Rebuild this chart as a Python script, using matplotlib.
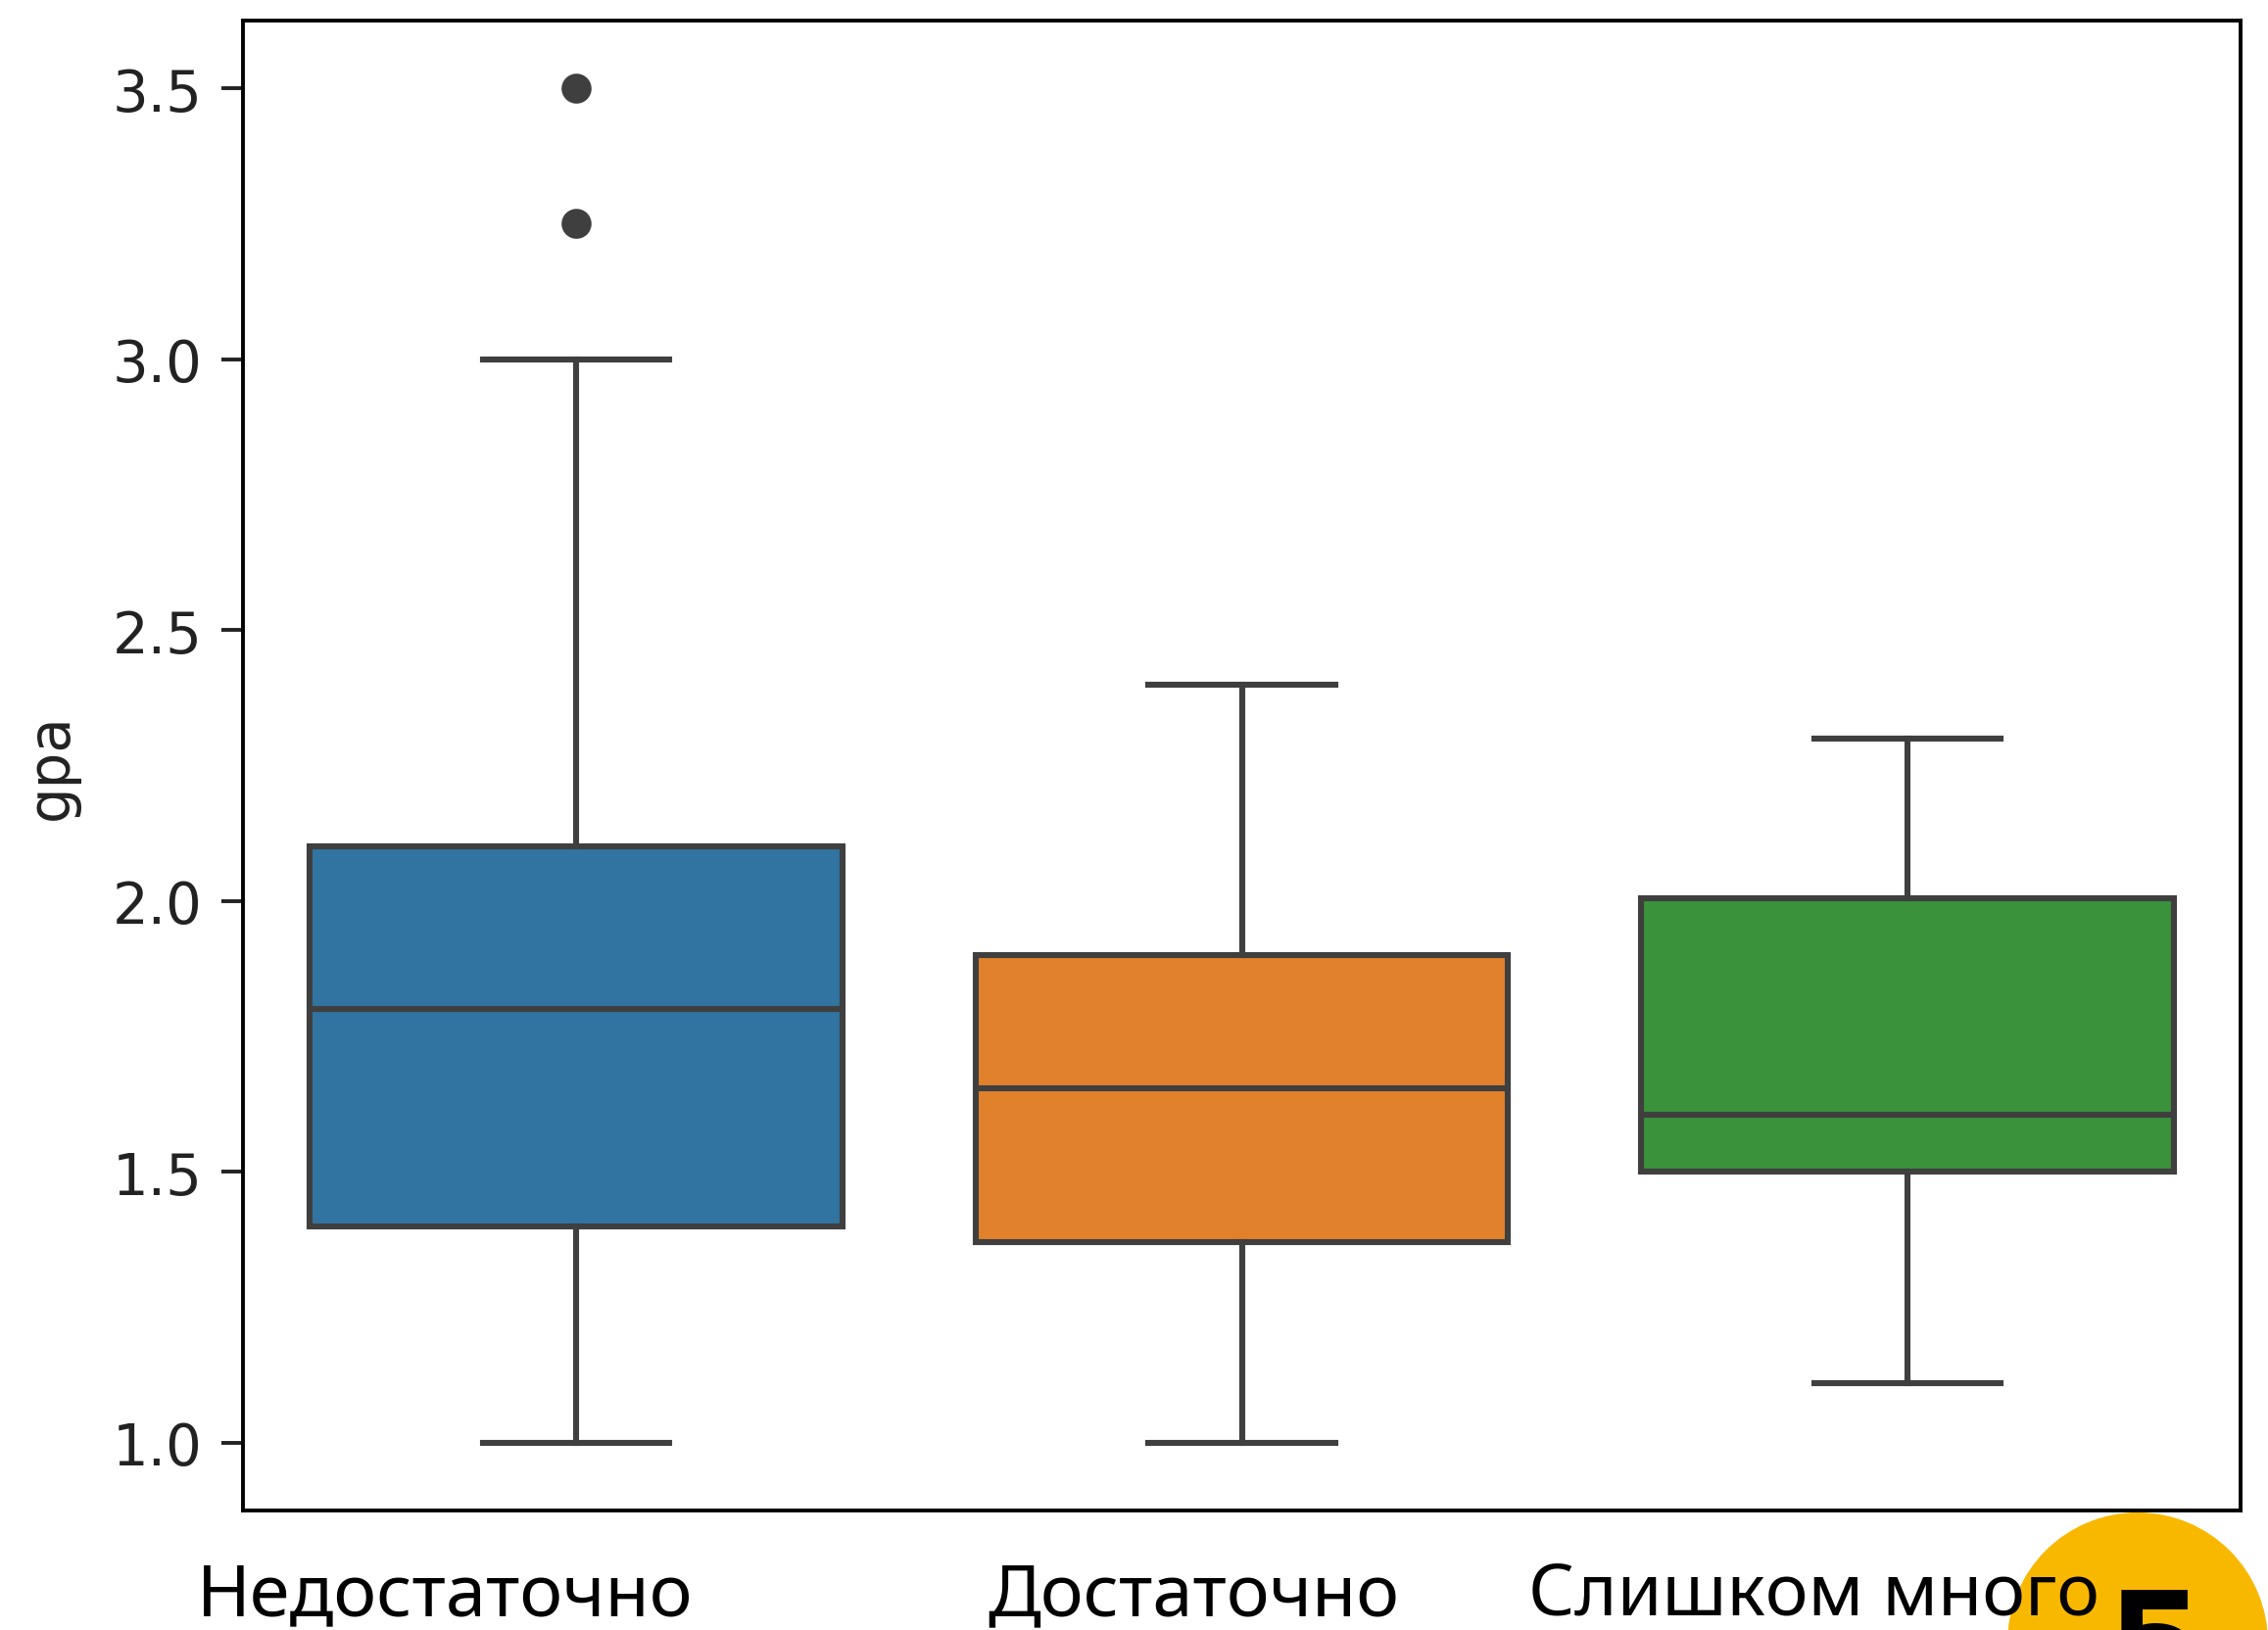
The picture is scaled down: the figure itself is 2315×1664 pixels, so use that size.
import matplotlib
matplotlib.use("Agg")
import matplotlib.pyplot as plt
from matplotlib.patches import Ellipse

# --- данные ---
groups = ["Недостаточно", "Достаточно", "Слишком много"]
whislo = [1.0, 1.0, 1.11]
q1 = [1.40, 1.37, 1.50]
med = [1.80, 1.655, 1.605]
q3 = [2.10, 1.90, 2.005]
whishi = [3.0, 2.40, 2.30]
fliers = [[3.25, 3.5], [], []]
colors = ["#3274A1", "#E1812C", "#3A923A"]
yticks = [1.0, 1.5, 2.0, 2.5, 3.0, 3.5]

W, H, DPI = 2315, 1665, 400
EDGE = "#3f3f3f"

fig = plt.figure(figsize=(W / DPI, H / DPI), dpi=DPI)
ax = fig.add_axes([248 / W, 1 - 1543 / H, (2287 - 248) / W, (1543 - 22) / H])

stats = []
for i in range(len(groups)):
    stats.append({"whislo": whislo[i], "q1": q1[i], "med": med[i],
                  "q3": q3[i], "whishi": whishi[i], "fliers": fliers[i]})

bp = ax.bxp(stats, positions=range(len(groups)), widths=0.8, capwidths=0.28,
            patch_artist=True, manage_ticks=False,
            boxprops=dict(edgecolor=EDGE, linewidth=1.1),
            whiskerprops=dict(color=EDGE, linewidth=1.1),
            capprops=dict(color=EDGE, linewidth=1.1),
            medianprops=dict(color=EDGE, linewidth=1.1),
            flierprops=dict(marker="o", markerfacecolor=EDGE, markeredgecolor=EDGE,
                            markersize=4.5, linestyle="none"))
for patch, c in zip(bp["boxes"], colors):
    patch.set_facecolor(c)

ax.set_xlim(-0.5, len(groups) - 0.5)
ax.set_ylim(0.875, 3.625)
ax.set_yticks(yticks)
ax.set_yticklabels([f"{t:.1f}" for t in yticks])
ax.tick_params(axis="y", labelsize=10.4, length=4, width=0.7, colors="#222222")
ax.set_xticks(range(len(groups)))
ax.set_xticklabels([])
ax.tick_params(axis="x", length=0)
ax.set_ylabel("gpa", fontsize=10.4, color="#222222", labelpad=6)
for s in ax.spines.values():
    s.set_linewidth(0.7)
    s.set_color("black")

# подписи категорий (крупный шрифт)
label_x = [454, 1218, 1851]
for name, x in zip(groups, label_x):
    fig.text(x / W, 1 - 1649 / H, name, ha="center", va="baseline",
             fontsize=13.3, family="Noto Sans", weight="light", color="black", zorder=5)

# жёлтый кружок с номером
circ = Ellipse((2182 / W, 1 - 1678 / H), 2 * 133 / W, 2 * 133 / H,
               transform=fig.transFigure, facecolor="#F9B800", edgecolor="none", zorder=3)
fig.patches.append(circ)
fig.text(2150 / W, 1 - 1618 / H, "5", ha="left", va="top", fontsize=26,
         family="DejaVu Sans", weight="bold", color="black", zorder=6)

fig.savefig("out.png", dpi=DPI)
